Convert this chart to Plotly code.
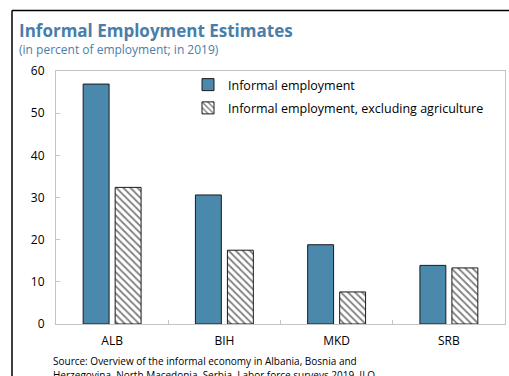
import plotly.graph_objects as go

categories = ["ALB", "BIH", "MKD", "SRB"]
informal = [56.9, 30.6, 18.8, 13.9]
informal_ex_agri = [32.4, 17.5, 7.6, 13.3]

W, H = 509, 376
L, R, T, B = 56, 4, 71, 52
pw, ph = W - L - R, H - T - B

def px(x):
    return (x - L) / pw

def py(y):
    return (H - B - y) / ph

FONT = "Open Sans"
BLUE = "#4a89ac"
TITLE_C = "#4a7eaa"

fig = go.Figure()
fig.add_trace(go.Bar(
    x=categories, y=informal, name="Informal employment", legendgroup="a",
    marker=dict(color=BLUE, line=dict(color="#1a1a1a", width=1)),
))
fig.add_trace(go.Bar(
    x=categories, y=informal_ex_agri, name="Informal employment, excluding agriculture",
    legendgroup="b",
    marker=dict(color="white", line=dict(color="#1a1a1a", width=1),
                pattern=dict(shape="\\", fgcolor="black", bgcolor="white", size=5, solidity=0.35)),
))

fig.update_layout(
    width=W, height=H,
    margin=dict(l=L, r=R, t=T, b=B, autoexpand=False),
    paper_bgcolor="white", plot_bgcolor="white",
    font=dict(family=FONT, size=12, color="black"),
    barmode="group", bargap=0.43, bargroupgap=0.19,
    showlegend=True,
    legend=dict(x=px(188), y=py(70), xanchor="left", yanchor="top",
                bgcolor="rgba(0,0,0,0)", font=dict(size=12.5, family=FONT),
                traceorder="grouped", tracegroupgap=4, itemwidth=30),
    xaxis=dict(showline=True, linecolor="#c4c4c4", linewidth=1, mirror=True,
               ticks="inside", ticklen=4, tickcolor="#c4c4c4", tickson="boundaries",
               showgrid=False, tickfont=dict(size=12), ticklabelstandoff=6, fixedrange=True),
    yaxis=dict(range=[0, 60], dtick=10, showline=True, linecolor="#c4c4c4", linewidth=1,
               mirror=True, ticks="inside", ticklen=4, tickcolor="#c4c4c4",
               showgrid=False, zeroline=False, tickfont=dict(size=12), ticklabelstandoff=8),
)

fig.add_annotation(text="<b>Informal Employment Estimates</b>", xref="paper", yref="paper",
                   x=px(17), y=py(30), xanchor="left", yanchor="middle", showarrow=False,
                   font=dict(size=17, color=TITLE_C, family=FONT))
fig.add_annotation(text="(in percent of employment; in 2019)", xref="paper", yref="paper",
                   x=px(17), y=py(49), xanchor="left", yanchor="middle", showarrow=False,
                   font=dict(size=12, color=TITLE_C, family=FONT))
fig.add_annotation(text="Source: Overview of the informal economy in Albania, Bosnia and",
                   xref="paper", yref="paper", x=px(51), y=py(361), xanchor="left",
                   yanchor="middle", showarrow=False, font=dict(size=10, family=FONT))
fig.add_annotation(text="Herzegovina, North Macedonia, Serbia. Labor force surveys 2019, ILO.",
                   xref="paper", yref="paper", x=px(51), y=py(375), xanchor="left",
                   yanchor="middle", showarrow=False, font=dict(size=10, family=FONT))

# outer frame lines (top and left)
fig.add_shape(type="line", xref="paper", yref="paper", x0=px(12), x1=px(W + 5),
              y0=py(10.5), y1=py(10.5), line=dict(color="black", width=1.5))
fig.add_shape(type="line", xref="paper", yref="paper", x0=px(12), x1=px(12),
              y0=py(10.5), y1=py(H + 5), line=dict(color="black", width=1.5))

fig.write_html("out.html", config={"displayModeBar": False},
               post_script="document.body.style.margin='0px';")
